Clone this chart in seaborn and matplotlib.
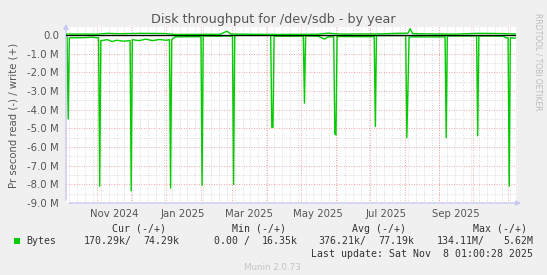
import numpy as np
import pandas as pd
import matplotlib
matplotlib.use("Agg")
import matplotlib.pyplot as plt
from matplotlib.patches import Rectangle
import seaborn as sns

# ---------------- data (values in MB/s) ----------------
read_dates = ["2024-10-04", "2024-10-05", "2024-10-06", "2024-10-07", "2024-10-20", "2024-10-27",
              "2024-11-02", "2024-11-03", "2024-11-04", "2024-11-10", "2024-11-14", "2024-11-18",
              "2024-11-24", "2024-11-30", "2024-12-01", "2024-12-02", "2024-12-08", "2024-12-14",
              "2024-12-20", "2024-12-26", "2025-01-01", "2025-01-04", "2025-01-05", "2025-01-06",
              "2025-01-09", "2025-01-20", "2025-02-01", "2025-02-02", "2025-02-03", "2025-02-15",
              "2025-03-01", "2025-03-02", "2025-03-03", "2025-04-04", "2025-04-05", "2025-04-06",
              "2025-04-07", "2025-05-03", "2025-05-04", "2025-05-05", "2025-05-16", "2025-05-22",
              "2025-05-25", "2025-05-30", "2025-05-31", "2025-06-01", "2025-06-02", "2025-07-05",
              "2025-07-06", "2025-07-07", "2025-08-02", "2025-08-03", "2025-08-04", "2025-08-05",
              "2025-09-06", "2025-09-07", "2025-09-08", "2025-10-04", "2025-10-05", "2025-10-06",
              "2025-10-28", "2025-10-30", "2025-11-01", "2025-11-02", "2025-11-03", "2025-11-08"]
read_mb = [0.10, 0.10, 4.5, 0.15, 0.14, 0.12,
           0.15, 8.1, 0.30, 0.25, 0.35, 0.28,
           0.33, 0.30, 8.35, 0.25, 0.30, 0.22,
           0.30, 0.24, 0.28, 0.25, 8.2, 0.25,
           0.10, 0.09, 0.09, 8.05, 0.05, 0.06,
           0.05, 8.0, 0.02, 0.02, 4.95, 4.95,
           0.06, 0.06, 3.65, 0.05, 0.06, 0.22,
           0.10, 0.10, 5.3, 5.35, 0.08, 0.09,
           4.9, 0.03, 0.03, 5.5, 2.85, 0.10,
           0.10, 5.5, 0.05, 0.05, 5.4, 0.05,
           0.06, 0.15, 0.15, 8.1, 0.15, 0.17]

write_dates = ["2024-10-04", "2024-11-01", "2024-11-10", "2024-11-20", "2024-12-10", "2024-12-30",
               "2025-01-10", "2025-02-18", "2025-02-24", "2025-02-28", "2025-04-10", "2025-05-15",
               "2025-05-25", "2025-06-05", "2025-07-10", "2025-07-25", "2025-08-04", "2025-08-06",
               "2025-08-08", "2025-08-20", "2025-09-15", "2025-10-05", "2025-10-25", "2025-11-08"]
write_mb = [0.05, 0.05, 0.09, 0.07, 0.09, 0.08,
            0.03, 0.04, 0.20, 0.05, 0.03, 0.04,
            0.10, 0.05, 0.06, 0.09, 0.10, 0.34,
            0.08, 0.06, 0.05, 0.09, 0.08, 0.05]

ytick_values = [0, -1, -2, -3, -4, -5, -6, -7, -8, -9]
ytick_labels = ["0.0", "-1.0 M", "-2.0 M", "-3.0 M", "-4.0 M", "-5.0 M",
                "-6.0 M", "-7.0 M", "-8.0 M", "-9.0 M"]
xtick_dates = ["2024-11-16", "2025-01-16", "2025-03-16", "2025-05-16", "2025-07-16", "2025-09-16"]
xtick_labels = ["Nov 2024", "Jan 2025", "Mar 2025", "May 2025", "Jul 2025", "Sep 2025"]

legend_headers = ["Cur (-/+)", "Min (-/+)", "Avg (-/+)", "Max (-/+)"]
legend_name = "Bytes"
legend_values = ["170.29k/", "74.29k", "0.00 /", "16.35k", "376.21k/", "77.19k", "134.11M/", "5.62M"]
last_update = "Last update: Sat Nov  8 01:00:28 2025"

# ---------------- figure ----------------
sns.set_style("white")
plt.rcParams['font.family'] = ['DejaVu Sans']

W, H = 547, 275
fig = plt.figure(figsize=(W / 100, H / 100), dpi=100, facecolor='#F0F0F0')
L, R, T, B = 66, 516, 27, 203
ax = fig.add_axes([L / W, 1 - B / H, (R - L) / W, (B - T) / H])
ax.set_facecolor('white')

start = pd.Timestamp("2024-10-04 01:00")
end = pd.Timestamp("2025-11-08 01:00")
ax.set_xlim(start, end)
ax.set_ylim(-9.0, 0.43)

# grid
for d in pd.date_range("2024-10-07", end, freq="7D"):
    ax.axvline(d, color='#CFCFCF', lw=0.6, ls=(0, (1, 2)), zorder=0.5)
for v in np.arange(-8.5, 0.1, 1.0):
    ax.axhline(v, color='#CFCFCF', lw=0.6, ls=(0, (1, 2)), zorder=0.5)
for d in pd.date_range("2024-11-01", end, freq="MS"):
    ax.axvline(d, color='#F08A8A', lw=0.6, ls=(0, (1, 2)), zorder=0.6)
for v in ytick_values:
    ax.axhline(v, color='#F08A8A', lw=0.6, ls=(0, (1, 2)), zorder=0.6)

df_read = pd.DataFrame({"date": pd.to_datetime(read_dates), "value": -np.array(read_mb)})
df_write = pd.DataFrame({"date": pd.to_datetime(write_dates), "value": np.array(write_mb)})

sns.lineplot(data=df_read, x="date", y="value", color='#00CC00', lw=1.0, ax=ax,
             estimator=None, sort=False, zorder=3)
ax.axhline(0, color='black', lw=1.0, zorder=3.5)
sns.lineplot(data=df_write, x="date", y="value", color='#00CC00', lw=1.0, ax=ax,
             estimator=None, sort=False, zorder=4)

for s in ax.spines.values():
    s.set_visible(False)

ax.set_xlabel("")
ax.set_ylabel("Pr second read (-) / write (+)", fontsize=7.3, color='#555555', labelpad=6)
ax.set_yticks(ytick_values, ytick_labels)
ax.set_xticks(pd.to_datetime(xtick_dates), xtick_labels)
ax.tick_params(axis='both', length=0, labelsize=7.3, labelcolor='#555555')
ax.tick_params(axis='y', pad=5)
ax.tick_params(axis='x', pad=4)

# axis lines with arrows
axis_col = '#C8C8F0'
ax.annotate("", xy=(0, (B - 21) / (B - T)), xytext=(0, 0), xycoords='axes fraction',
            arrowprops=dict(arrowstyle='-|>', color=axis_col, lw=1, mutation_scale=7), annotation_clip=False)
ax.annotate("", xy=((524 - L) / (R - L), 0), xytext=(0, 0), xycoords='axes fraction',
            arrowprops=dict(arrowstyle='-|>', color=axis_col, lw=1, mutation_scale=7), annotation_clip=False)

# title
fig.text(273.5 / W, 1 - 20 / H, "Disk throughput for /dev/sdb - by year", ha='center', va='center',
         fontsize=9.2, color='#555555')
fig.text(538 / W, 1 - 13 / H, "RRDTOOL / TOBI OETIKER", rotation=270, ha='center', va='top',
         fontsize=5.5, color='#BBBBBB')

# legend
mono = dict(family='DejaVu Sans Mono', fontsize=7.1, color='#333333')
header_x = [111.6, 232, 352.3, 473]
for hx, htxt in zip(header_x, legend_headers):
    fig.text(hx / W, 1 - 228.6 / H, htxt, ha='left', va='center', **mono)
row_y = 1 - 241 / H
fig.patches.append(Rectangle((14 / W, 1 - 243.5 / H), 5.5 / W, 5.5 / H, transform=fig.transFigure,
                             facecolor='#00CC00', edgecolor='none'))
fig.text(26.2 / W, row_y, legend_name, ha='left', va='center', **mono)
val_pos = [(83.7, 'left'), (179.6, 'right'), (213.5, 'left'), (297.5, 'right'),
           (318.1, 'left'), (414.4, 'right'), (436.7, 'left'), (533, 'right')]
for (vx, al), vt in zip(val_pos, legend_values):
    fig.text(vx / W, row_y, vt, ha=al, va='center', **mono)
fig.text(533 / W, 1 - 254 / H, last_update, ha='right', va='center', **mono)
fig.text(272.8 / W, 1 - 267 / H, "Munin 2.0.73", ha='center', va='center',
         fontsize=6.3, color='#C4C4C4')

fig.savefig("out.png", dpi=100, facecolor=fig.get_facecolor())
